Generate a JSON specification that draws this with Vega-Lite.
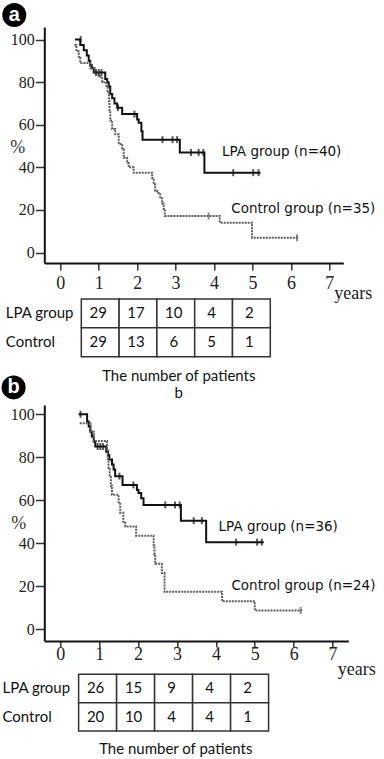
{
  "$schema": "https://vega.github.io/schema/vega-lite/v6.json",
  "padding": {"left": 1.3, "top": 3, "right": 0, "bottom": 0},
  "spacing": 30,
  "bounds": "flush",
  "config": {
    "font": "Liberation Serif",
    "view": {"stroke": null},
    "axis": {"grid": false, "labelFont": "Liberation Serif", "titleFont": "Liberation Serif", "labelColor": "#222", "domainColor": "#111", "domainWidth": 2, "tickColor": "#333", "tickWidth": 1.5},
    "axisX": {"labelFontSize": 18},
    "axisY": {"labelFontSize": 16}
  },
  "datasets": {
    "kmA": [
      {"group": "LPA", "t": 0.38, "s": 100}, {"group": "LPA", "t": 0.52, "s": 97.5}, {"group": "LPA", "t": 0.61, "s": 95},
      {"group": "LPA", "t": 0.69, "s": 92.5}, {"group": "LPA", "t": 0.74, "s": 90}, {"group": "LPA", "t": 0.78, "s": 88},
      {"group": "LPA", "t": 0.82, "s": 86.5}, {"group": "LPA", "t": 0.87, "s": 84.5}, {"group": "LPA", "t": 1.17, "s": 81.5},
      {"group": "LPA", "t": 1.22, "s": 80}, {"group": "LPA", "t": 1.26, "s": 78}, {"group": "LPA", "t": 1.30, "s": 74.5},
      {"group": "LPA", "t": 1.35, "s": 72.5}, {"group": "LPA", "t": 1.41, "s": 70}, {"group": "LPA", "t": 1.48, "s": 68},
      {"group": "LPA", "t": 1.61, "s": 65}, {"group": "LPA", "t": 2.00, "s": 62.5}, {"group": "LPA", "t": 2.04, "s": 61},
      {"group": "LPA", "t": 2.11, "s": 57}, {"group": "LPA", "t": 2.14, "s": 53}, {"group": "LPA", "t": 3.11, "s": 47},
      {"group": "LPA", "t": 3.75, "s": 37.5}, {"group": "LPA", "t": 5.21, "s": 37.5},
      {"group": "Control", "t": 0.37, "s": 97.5}, {"group": "Control", "t": 0.42, "s": 94.5}, {"group": "Control", "t": 0.48, "s": 91.5},
      {"group": "Control", "t": 0.52, "s": 89}, {"group": "Control", "t": 0.78, "s": 86.5}, {"group": "Control", "t": 0.90, "s": 84.5},
      {"group": "Control", "t": 1.00, "s": 82.5}, {"group": "Control", "t": 1.09, "s": 80}, {"group": "Control", "t": 1.20, "s": 77.5},
      {"group": "Control", "t": 1.23, "s": 75}, {"group": "Control", "t": 1.27, "s": 71}, {"group": "Control", "t": 1.28, "s": 66.5},
      {"group": "Control", "t": 1.30, "s": 62}, {"group": "Control", "t": 1.35, "s": 58}, {"group": "Control", "t": 1.43, "s": 55.5},
      {"group": "Control", "t": 1.52, "s": 51}, {"group": "Control", "t": 1.61, "s": 48.5}, {"group": "Control", "t": 1.65, "s": 44.5},
      {"group": "Control", "t": 1.74, "s": 42}, {"group": "Control", "t": 1.78, "s": 40}, {"group": "Control", "t": 1.91, "s": 37.5},
      {"group": "Control", "t": 2.39, "s": 35}, {"group": "Control", "t": 2.43, "s": 32}, {"group": "Control", "t": 2.47, "s": 29},
      {"group": "Control", "t": 2.52, "s": 28}, {"group": "Control", "t": 2.60, "s": 26}, {"group": "Control", "t": 2.65, "s": 23},
      {"group": "Control", "t": 2.69, "s": 20.5}, {"group": "Control", "t": 2.72, "s": 17.2}, {"group": "Control", "t": 4.15, "s": 14},
      {"group": "Control", "t": 4.99, "s": 7}, {"group": "Control", "t": 6.21, "s": 7}
    ],
    "censA": [
      {"group": "LPA", "t": 0.53, "s": 100}, {"group": "LPA", "t": 0.93, "s": 84.5}, {"group": "LPA", "t": 1.0, "s": 84.5},
      {"group": "LPA", "t": 1.07, "s": 84.5}, {"group": "LPA", "t": 1.50, "s": 68}, {"group": "LPA", "t": 1.93, "s": 65},
      {"group": "LPA", "t": 2.66, "s": 53}, {"group": "LPA", "t": 2.92, "s": 53}, {"group": "LPA", "t": 3.04, "s": 53},
      {"group": "LPA", "t": 3.40, "s": 47}, {"group": "LPA", "t": 3.60, "s": 47}, {"group": "LPA", "t": 3.72, "s": 47},
      {"group": "LPA", "t": 4.50, "s": 37.5}, {"group": "LPA", "t": 5.02, "s": 37.5}, {"group": "LPA", "t": 5.16, "s": 37.5},
      {"group": "Control", "t": 3.86, "s": 17.2}, {"group": "Control", "t": 6.16, "s": 7}
    ],
    "kmB": [
      {"group": "LPA", "t": 0.47, "s": 100}, {"group": "LPA", "t": 0.69, "s": 96.6}, {"group": "LPA", "t": 0.73, "s": 94.3},
      {"group": "LPA", "t": 0.77, "s": 92}, {"group": "LPA", "t": 0.81, "s": 89.6}, {"group": "LPA", "t": 0.86, "s": 87.3},
      {"group": "LPA", "t": 0.90, "s": 85}, {"group": "LPA", "t": 1.18, "s": 82.6}, {"group": "LPA", "t": 1.23, "s": 81},
      {"group": "LPA", "t": 1.26, "s": 78.9}, {"group": "LPA", "t": 1.33, "s": 76.6}, {"group": "LPA", "t": 1.37, "s": 74.3},
      {"group": "LPA", "t": 1.41, "s": 71.2}, {"group": "LPA", "t": 1.60, "s": 67.1}, {"group": "LPA", "t": 1.97, "s": 64.8},
      {"group": "LPA", "t": 2.01, "s": 63.3}, {"group": "LPA", "t": 2.08, "s": 60.9}, {"group": "LPA", "t": 2.14, "s": 57.8},
      {"group": "LPA", "t": 3.10, "s": 50.5}, {"group": "LPA", "t": 3.75, "s": 40.5}, {"group": "LPA", "t": 5.23, "s": 40.5},
      {"group": "Control", "t": 0.50, "s": 95.8}, {"group": "Control", "t": 0.78, "s": 91.7}, {"group": "Control", "t": 0.86, "s": 87.5},
      {"group": "Control", "t": 1.20, "s": 83.3}, {"group": "Control", "t": 1.22, "s": 79.2}, {"group": "Control", "t": 1.24, "s": 75},
      {"group": "Control", "t": 1.27, "s": 70.8}, {"group": "Control", "t": 1.30, "s": 66.7}, {"group": "Control", "t": 1.33, "s": 62.5},
      {"group": "Control", "t": 1.50, "s": 58.3}, {"group": "Control", "t": 1.54, "s": 54.2}, {"group": "Control", "t": 1.62, "s": 50},
      {"group": "Control", "t": 1.67, "s": 47.8}, {"group": "Control", "t": 1.95, "s": 43.5}, {"group": "Control", "t": 2.40, "s": 39.1},
      {"group": "Control", "t": 2.42, "s": 34.8}, {"group": "Control", "t": 2.44, "s": 30.4}, {"group": "Control", "t": 2.61, "s": 26.1},
      {"group": "Control", "t": 2.68, "s": 17.4}, {"group": "Control", "t": 4.16, "s": 13}, {"group": "Control", "t": 5.00, "s": 8.7},
      {"group": "Control", "t": 6.22, "s": 8.7}
    ],
    "censB": [
      {"group": "LPA", "t": 0.52, "s": 100}, {"group": "LPA", "t": 0.96, "s": 85}, {"group": "LPA", "t": 1.03, "s": 85},
      {"group": "LPA", "t": 1.10, "s": 85}, {"group": "LPA", "t": 1.52, "s": 71.2}, {"group": "LPA", "t": 1.88, "s": 67.1},
      {"group": "LPA", "t": 2.70, "s": 57.8}, {"group": "LPA", "t": 2.95, "s": 57.8}, {"group": "LPA", "t": 3.07, "s": 57.8},
      {"group": "LPA", "t": 3.43, "s": 50.5}, {"group": "LPA", "t": 3.64, "s": 50.5}, {"group": "LPA", "t": 4.52, "s": 40.5},
      {"group": "LPA", "t": 5.06, "s": 40.5}, {"group": "LPA", "t": 5.18, "s": 40.5},
      {"group": "Control", "t": 6.18, "s": 8.7}
    ],
    "tabA": [
      {"row": "LPA group", "col": 1, "n": 29}, {"row": "LPA group", "col": 2, "n": 17}, {"row": "LPA group", "col": 3, "n": 10},
      {"row": "LPA group", "col": 4, "n": 4}, {"row": "LPA group", "col": 5, "n": 2},
      {"row": "Control", "col": 1, "n": 29}, {"row": "Control", "col": 2, "n": 13}, {"row": "Control", "col": 3, "n": 6},
      {"row": "Control", "col": 4, "n": 5}, {"row": "Control", "col": 5, "n": 1}
    ],
    "tabB": [
      {"row": "LPA group", "col": 1, "n": 26}, {"row": "LPA group", "col": 2, "n": 15}, {"row": "LPA group", "col": 3, "n": 9},
      {"row": "LPA group", "col": 4, "n": 4}, {"row": "LPA group", "col": 5, "n": 2},
      {"row": "Control", "col": 1, "n": 20}, {"row": "Control", "col": 2, "n": 10}, {"row": "Control", "col": 3, "n": 4},
      {"row": "Control", "col": 4, "n": 4}, {"row": "Control", "col": 5, "n": 1}
    ]
  },
  "vconcat": [
    {
      "width": 299,
      "height": 236,
      "layer": [
        {
          "data": {"name": "kmA"},
          "mark": {"type": "line", "interpolate": "step-after", "strokeWidth": 2},
          "encoding": {
            "x": {"field": "t", "type": "quantitative",
              "scale": {"domain": [-0.416, 7.364], "nice": false, "zero": false},
              "axis": {"values": [0, 1, 2, 3, 4, 5, 6, 7], "format": "d", "tickSize": 7, "labelPadding": 4.5,
                "labelFont": "Liberation Serif", "labelFontSize": 18, "labelColor": "#222",
                "title": "years", "titleFont": "Liberation Serif", "titleFontSize": 18, "titleFontWeight": "normal",
                "titleColor": "#222", "titleX": 308.5, "titleY": 30.7, "titleAlign": "center", "titleBaseline": "middle"}},
            "y": {"field": "s", "type": "quantitative",
              "scale": {"domain": [-4.9, 105.9], "nice": false, "zero": false},
              "axis": {"values": [0, 20, 40, 60, 80, 100], "tickSize": 9, "labelPadding": 1,
                "labelFont": "Liberation Serif", "labelFontSize": 16, "labelColor": "#222",
                "title": "%", "titleFont": "Liberation Serif", "titleFontSize": 18, "titleFontWeight": "normal",
                "titleColor": "#333", "titleAngle": 0, "titleX": -27, "titleY": 120, "titleAlign": "center", "titleBaseline": "middle"}},
            "color": {"field": "group", "type": "nominal", "scale": {"domain": ["LPA", "Control"], "range": ["#111111", "#5e5e5e"]}, "legend": null},
            "strokeDash": {"field": "group", "type": "nominal", "scale": {"domain": ["LPA", "Control"], "range": [[1, 0], [2, 1]]}, "legend": null}
          }
        },
        {
          "data": {"name": "censA"},
          "mark": {"type": "tick", "orient": "vertical", "size": 7, "thickness": 2},
          "encoding": {
            "x": {"field": "t", "type": "quantitative"},
            "y": {"field": "s", "type": "quantitative"},
            "color": {"field": "group", "type": "nominal", "legend": null}
          }
        },
        {
          "data": {"values": [{}]},
          "mark": {"type": "text", "align": "left", "baseline": "middle", "font": "DejaVu Sans", "fontSize": 13.5, "color": "#111"},
          "encoding": {"x": {"datum": 4.21}, "y": {"datum": 47.3}, "text": {"value": "LPA group (n=40)"}}
        },
        {
          "data": {"values": [{}]},
          "mark": {"type": "text", "align": "left", "baseline": "middle", "font": "DejaVu Sans", "fontSize": 13.5, "color": "#111"},
          "encoding": {"x": {"datum": 4.45}, "y": {"datum": 20.3}, "text": {"value": "Control group (n=35)"}}
        },
        {
          "data": {"values": [{}]},
          "mark": {"type": "point", "shape": "circle", "filled": true, "size": 576, "color": "#000", "opacity": 1},
          "encoding": {"x": {"datum": -1.197}, "y": {"datum": 111.5}}
        },
        {
          "data": {"values": [{}]},
          "mark": {"type": "text", "align": "center", "baseline": "middle", "font": "Liberation Sans", "fontWeight": "bold", "fontSize": 20, "color": "#fff"},
          "encoding": {"x": {"datum": -1.197}, "y": {"datum": 111.5}, "text": {"value": "a"}}
        }
      ]
    },
    {
      "width": 263,
      "height": 82,
      "data": {"name": "tabA"},
      "encoding": {
        "x": {"field": "col", "type": "ordinal",
          "scale": {"type": "band", "domain": [1, 2, 3, 4, 5], "paddingInner": 0, "paddingOuter": 0.979, "align": 0.5},
          "axis": {"orient": "top", "labels": false, "ticks": false, "tickSize": 0, "domain": false,
            "title": ["The number of patients", "b"], "titleFont": "Lato", "titleFontSize": 15, "titleFontWeight": "normal",
            "titleColor": "#111", "titleX": 134, "titleY": 75.1, "titleAlign": "center", "titleBaseline": "top", "titleLineHeight": 17}},
        "y": {"field": "row", "type": "nominal",
          "scale": {"type": "band", "domain": ["LPA group", "Control"], "paddingInner": 0, "paddingOuter": 0.42, "align": 0.247},
          "axis": {"orient": "left", "domain": false, "ticks": false, "tickSize": 0, "labelAlign": "left", "labelPadding": 39,
            "labelFont": "Lato", "labelFontSize": 15, "labelColor": "#111", "labelOverlap": false, "title": null}}
      },
      "layer": [
        {"mark": {"type": "rect", "fill": "#fff", "stroke": "#333", "strokeWidth": 1.5}},
        {
          "mark": {"type": "text", "font": "Lato", "fontSize": 15, "dx": -2, "color": "#111", "baseline": "middle"},
          "encoding": {"text": {"field": "n", "type": "quantitative"}}
        }
      ]
    },
    {
      "width": 304,
      "height": 236,
      "layer": [
        {
          "data": {"name": "kmB"},
          "mark": {"type": "line", "interpolate": "step-after", "strokeWidth": 2},
          "encoding": {
            "x": {"field": "t", "type": "quantitative",
              "scale": {"domain": [-0.411, 7.404], "nice": false, "zero": false},
              "axis": {"values": [0, 1, 2, 3, 4, 5, 6, 7], "format": "d", "tickSize": 6, "labelPadding": -1,
                "labelFont": "Liberation Serif", "labelFontSize": 18, "labelColor": "#222",
                "title": "years", "titleFont": "Liberation Serif", "titleFontSize": 18, "titleFontWeight": "normal",
                "titleColor": "#222", "titleX": 312, "titleY": 28.6, "titleAlign": "center", "titleBaseline": "middle"}},
            "y": {"field": "s", "type": "quantitative",
              "scale": {"domain": [-5.5, 104.3], "nice": false, "zero": false},
              "axis": {"values": [0, 20, 40, 60, 80, 100], "tickSize": 9, "labelPadding": 1,
                "labelFont": "Liberation Serif", "labelFontSize": 16, "labelColor": "#222",
                "title": "%", "titleFont": "Liberation Serif", "titleFontSize": 18, "titleFontWeight": "normal",
                "titleColor": "#333", "titleAngle": 0, "titleX": -26, "titleY": 118.3, "titleAlign": "center", "titleBaseline": "middle"}},
            "color": {"field": "group", "type": "nominal", "scale": {"domain": ["LPA", "Control"], "range": ["#111111", "#5e5e5e"]}, "legend": null},
            "strokeDash": {"field": "group", "type": "nominal", "scale": {"domain": ["LPA", "Control"], "range": [[1, 0], [2, 1]]}, "legend": null}
          }
        },
        {
          "data": {"name": "censB"},
          "mark": {"type": "tick", "orient": "vertical", "size": 7, "thickness": 2},
          "encoding": {
            "x": {"field": "t", "type": "quantitative"},
            "y": {"field": "s", "type": "quantitative"},
            "color": {"field": "group", "type": "nominal", "legend": null}
          }
        },
        {
          "data": {"values": [{}]},
          "mark": {"type": "text", "align": "left", "baseline": "middle", "font": "DejaVu Sans", "fontSize": 13.5, "color": "#111"},
          "encoding": {"x": {"datum": 4.07}, "y": {"datum": 47.7}, "text": {"value": "LPA group (n=36)"}}
        },
        {
          "data": {"values": [{}]},
          "mark": {"type": "text", "align": "left", "baseline": "middle", "font": "DejaVu Sans", "fontSize": 13.5, "color": "#111"},
          "encoding": {"x": {"datum": 4.40}, "y": {"datum": 20.1}, "text": {"value": "Control group (n=24)"}}
        },
        {
          "data": {"values": [{}]},
          "mark": {"type": "point", "shape": "circle", "filled": true, "size": 576, "color": "#000", "opacity": 1},
          "encoding": {"x": {"datum": -1.20}, "y": {"datum": 112.5}}
        },
        {
          "data": {"values": [{}]},
          "mark": {"type": "text", "align": "center", "baseline": "middle", "font": "Liberation Sans", "fontWeight": "bold", "fontSize": 20, "color": "#fff"},
          "encoding": {"x": {"datum": -1.20}, "y": {"datum": 112.5}, "text": {"value": "b"}}
        }
      ]
    },
    {
      "width": 258.6,
      "height": 88,
      "data": {"name": "tabB"},
      "encoding": {
        "x": {"field": "col", "type": "ordinal",
          "scale": {"type": "band", "domain": [1, 2, 3, 4, 5], "paddingInner": 0, "paddingOuter": 0.903, "align": 0.5},
          "axis": {"orient": "top", "labels": false, "ticks": false, "tickSize": 0, "domain": false,
            "title": "The number of patients", "titleFont": "Lato", "titleFontSize": 15, "titleFontWeight": "normal",
            "titleColor": "#111", "titleX": 131, "titleY": 70.4, "titleAlign": "center", "titleBaseline": "top"}},
        "y": {"field": "row", "type": "nominal",
          "scale": {"type": "band", "domain": ["LPA group", "Control"], "paddingInner": 0, "paddingOuter": 0.552, "align": 0.105},
          "axis": {"orient": "left", "domain": false, "ticks": false, "tickSize": 0, "labelAlign": "left", "labelPadding": 42.3,
            "labelFont": "Lato", "labelFontSize": 15, "labelColor": "#111", "labelOverlap": false, "title": null}}
      },
      "layer": [
        {"mark": {"type": "rect", "fill": "#fff", "stroke": "#333", "strokeWidth": 1.5}},
        {
          "mark": {"type": "text", "font": "Lato", "fontSize": 15, "dx": -2, "color": "#111", "baseline": "middle"},
          "encoding": {"text": {"field": "n", "type": "quantitative"}}
        }
      ]
    }
  ]
}
